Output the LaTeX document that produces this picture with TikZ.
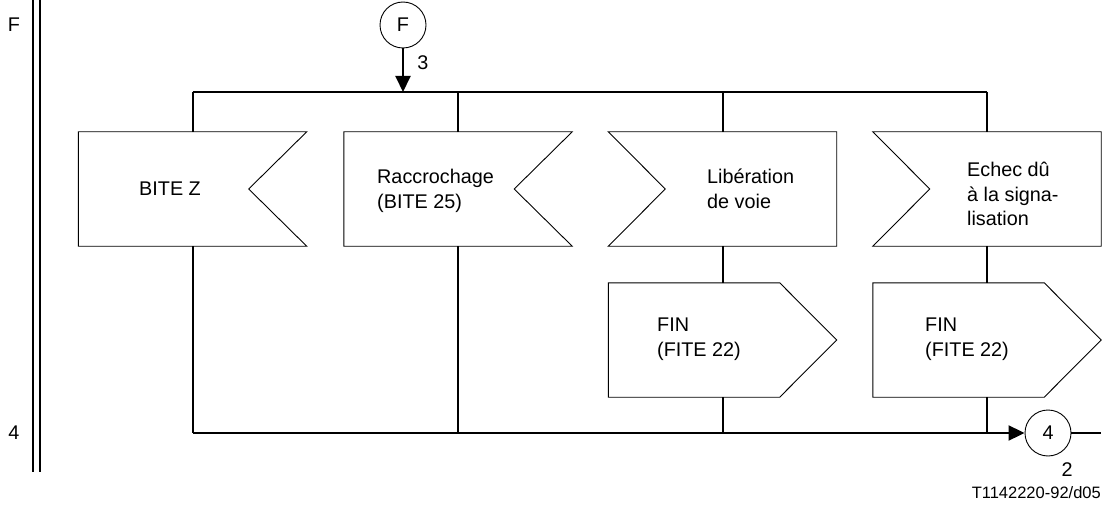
\documentclass[tikz,border=0pt]{standalone}
\usepackage{fontspec}
\setmainfont{Liberation Sans}
\usetikzlibrary{arrows.meta,calc}
\begin{document}
\begin{tikzpicture}[x=1pt,y=-1pt,
  conn/.style={line width=2pt},
  outline/.style={line width=0.9pt},
  frame/.style={draw=none,minimum width=228pt,minimum height=114pt,inner sep=0pt},
  txt/.style={font=\fontsize{19.8}{24.5}\selectfont,inner sep=0pt,align=left,anchor=west},
  lbl/.style={font=\fontsize{19.8}{24.5}\selectfont,inner sep=0pt},
  conncircle/.style={circle,draw,line width=0.9pt,minimum size=46pt,inner sep=0pt,font=\fontsize{19.8}{24.5}\selectfont},
  arr/.style={conn,-{Triangle[length=16pt,width=15pt]}}]
\useasboundingbox (0,0) rectangle (1112,508);

% left frame double line
\draw[conn] (33,0) -- (33,472);
\draw[conn] (40,0) -- (40,472);
\node[lbl] (lF) at (14,25) {F};
\node[lbl] (l4) at (14,433) {4};

% connector circles
\node[conncircle] (cF) at (403,25) {F};
\node[conncircle] (c4) at (1048,433) {4};
\node[lbl] (l3) at (423,63) {3};
\node[lbl] (l2) at (1067,470) {2};
\coordinate (jF) at (403,92);
\coordinate (out4) at (1101,433);

% input boxes (notch on the right)
\node[frame] (b1) at (192.5,189) {};
\node[frame] (b2) at (458,189) {};
% input boxes (notch on the left)
\node[frame] (b3) at (722.5,189) {};
\node[frame] (b4) at (987,189) {};
% output boxes
\node[frame] (o3) at (722.5,340) {};
\node[frame] (o4) at (987,340) {};

\foreach \b in {b1,b2}{
  \draw[outline] (\b.north west) -- (\b.north east) -- ($(\b.east)+(-58,0)$) -- (\b.south east) -- (\b.south west) -- cycle;
}
\foreach \b in {b3,b4}{
  \draw[outline] (\b.north west) -- ($(\b.west)+(57,0)$) -- (\b.south west) -- (\b.south east) -- (\b.north east) -- cycle;
}
\foreach \b in {o3,o4}{
  \draw[outline] (\b.north west) -- ($(\b.north east)+(-57,0)$) -- (\b.east) -- ($(\b.south east)+(-57,0)$) -- (\b.south west) -- cycle;
}

% texts
\node[lbl] (t1) at (170,189) {BITE Z};
\node[txt] (t2) at (377,191) {Raccrochage\\(BITE 25)};
\node[txt] (t3) at (707,189) {Libération\\de voie};
\node[txt] (t4) at (967,194) {Echec dû\\à la signa-\\lisation};
\node[txt] (t5) at (657,339) {FIN\\(FITE 22)};
\node[txt] (t6) at (925,339) {FIN\\(FITE 22)};
\node[font=\fontsize{16.5}{20}\selectfont,inner sep=0pt,anchor=east] (code) at (1101,493) {T1142220-92/d05};

% connectors
\draw[arr] (cF) -- (jF);
\draw[conn] (b1.north |- jF) -- (b4.north |- jF);
\foreach \b in {b1,b2,b3,b4}{
  \draw[conn] (\b.north |- jF) -- (\b.north);
}
\draw[conn] (b1.south) -- (b1.south |- c4);
\draw[conn] (b2.south) -- (b2.south |- c4);
\draw[conn] (b3.south) -- (o3.north);
\draw[conn] (b4.south) -- (o4.north);
\draw[conn] (o3.south) -- (o3.south |- c4);
\draw[conn] (o4.south) -- (o4.south |- c4);
\draw[arr] (b1.south |- c4) -- (c4);
\draw[conn] (c4) -- (out4);
\end{tikzpicture}
\end{document}
